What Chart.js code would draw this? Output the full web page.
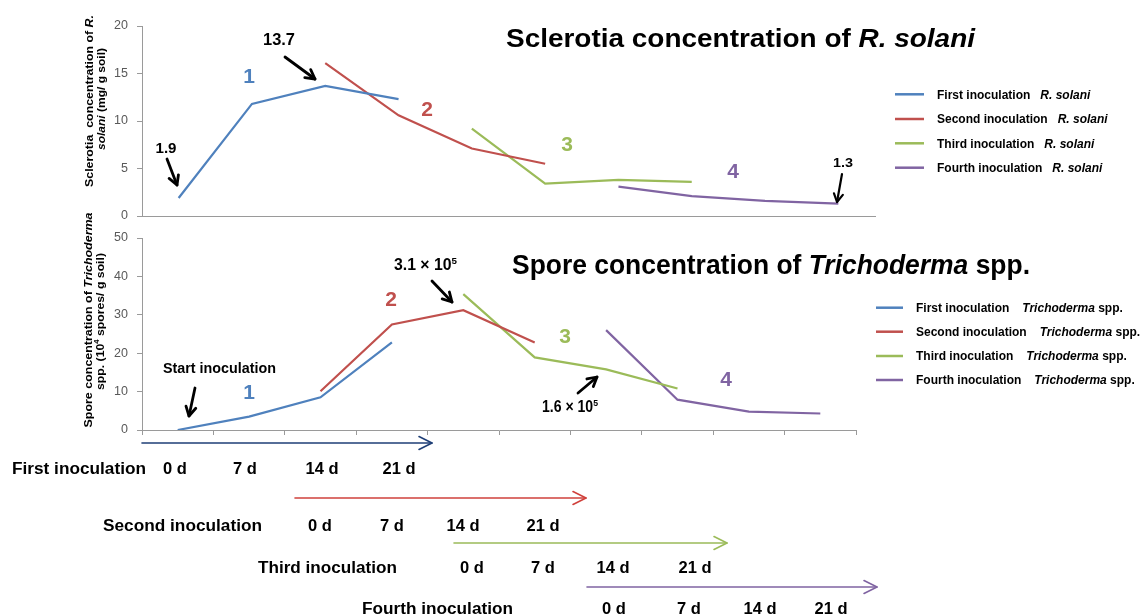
<!DOCTYPE html>
<html><head><meta charset="utf-8">
<script src="https://cdn.jsdelivr.net/npm/chart.js@4.4.1/dist/chart.umd.min.js"></script>
<style>
html,body{margin:0;padding:0;background:#fff;}
#wrap{position:relative;width:1141px;height:616px;overflow:hidden;background:#fff;}
canvas{position:absolute;left:0;top:0;}
</style></head><body>
<div id="wrap"><canvas id="cTop" width="1141" height="616"></canvas><canvas id="cBot" width="1141" height="616"></canvas></div>
<script>
// ---- data ----
const categories = ['0 d','7 d','14 d','21 d','28 d','35 d','42 d','49 d','56 d','63 d'];
const rsFirst  = [1.9, 11.8, 13.7, 12.3, null, null, null, null, null, null];
const rsSecond = [null, null, 16.1, 10.6, 7.1, 5.5, null, null, null, null];
const rsThird  = [null, null, null, null, 9.2, 3.4, 3.8, 3.6, null, null];
const rsFourth = [null, null, null, null, null, null, 3.1, 2.1, 1.6, 1.3];
const trFirst  = [0, 3.5, 8.5, 22.8, null, null, null, null, null, null];
const trSecond = [null, null, 10.1, 27.5, 31.2, 22.8, null, null, null, null];
const trThird  = [null, null, null, null, 35.4, 18.9, 15.8, 10.8, null, null];
const trFourth = [null, null, null, null, null, null, 26.0, 7.9, 4.8, 4.3];
const rsTicks = [0, 5, 10, 15, 20];
const trTicks = [0, 10, 20, 30, 40, 50];
const seriesNames = ['First inoculation', 'Second inoculation', 'Third inoculation', 'Fourth inoculation'];
const timelineDays = ['0 d', '7 d', '14 d', '21 d'];
const seriesColors = ['#4F81BD', '#C0504D', '#9BBB59', '#8064A2'];

// ---- helpers ----
const FAM = '"Liberation Sans", Arial, sans-serif';
function fnt(sz, it) { return (it ? 'italic ' : '') + 'bold ' + sz + 'px ' + FAM; }
function measure(ctx, parts, sz) {
  let w = 0;
  for (const p of parts) { ctx.font = fnt(p.sup ? sz * 0.62 : sz, p.it); w += ctx.measureText(p.t).width; }
  return w;
}
function drawParts(ctx, parts, x, y, o) {
  const sz = o.size;
  const nat = measure(ctx, parts, sz);
  const sx = o.width ? o.width / nat : (o.sx || 1);
  const w = nat * sx;
  ctx.save();
  ctx.translate(x, y);
  if (o.rot) ctx.rotate(o.rot);
  const start = o.align === 'center' ? -w / 2 : (o.align === 'right' ? -w : 0);
  ctx.translate(start, 0);
  ctx.scale(sx, 1);
  ctx.fillStyle = o.color || '#000';
  ctx.textBaseline = 'alphabetic';
  ctx.textAlign = 'left';
  let cx = 0;
  for (const p of parts) {
    const s = p.sup ? sz * 0.62 : sz;
    ctx.font = fnt(s, p.it);
    ctx.fillText(p.t, cx, p.sup ? -sz * 0.4 : 0);
    cx += ctx.measureText(p.t).width;
  }
  ctx.restore();
  return w;
}
function arrow(ctx, x1, y1, x2, y2, color, lw, head, half) {
  ctx.save();
  ctx.strokeStyle = color; ctx.lineWidth = lw; ctx.lineCap = 'round'; ctx.lineJoin = 'round';
  ctx.beginPath(); ctx.moveTo(x1, y1); ctx.lineTo(x2, y2); ctx.stroke();
  const a = Math.atan2(y2 - y1, x2 - x1);
  const bx = x2 - head * Math.cos(a), by = y2 - head * Math.sin(a);
  const nx = -Math.sin(a) * half, ny = Math.cos(a) * half;
  ctx.beginPath();
  ctx.moveTo(bx + nx, by + ny); ctx.lineTo(x2, y2); ctx.lineTo(bx - nx, by - ny);
  ctx.stroke();
  ctx.restore();
}
function mkDatasets(arrs) {
  return arrs.map((d, i) => ({
    label: seriesNames[i], data: d, borderColor: seriesColors[i], backgroundColor: seriesColors[i],
    borderWidth: 2.2, pointRadius: 0, pointHoverRadius: 0, tension: 0, fill: false, spanGaps: false
  }));
}
const AXIS = '#9a9a9a';
const tickFont = { family: FAM.replace(/"/g, ''), size: 12.5 };

// ---- top chart: R. solani ----
const topPlugin = {
  id: 'topText',
  afterDraw(chart) {
    const ctx = chart.ctx;
    drawParts(ctx, [{ t: 'Sclerotia concentration of ' }, { t: 'R. solani', it: true }], 506, 47, { size: 25, width: 469 });
    drawParts(ctx, [{ t: 'Sclerotia  concentration of ' }, { t: 'R.', it: true }], 93, 101, { size: 11.5, width: 172, align: 'center', rot: -Math.PI / 2 });
    drawParts(ctx, [{ t: 'solani', it: true }, { t: ' (mg/ g soil)' }], 104.5, 99, { size: 11.5, width: 102, align: 'center', rot: -Math.PI / 2 });
    const rows = [94.3, 119, 143.3, 167.7];
    chart.data.datasets.forEach((ds, i) => {
      ctx.save(); ctx.strokeStyle = ds.borderColor; ctx.lineWidth = 2.5;
      ctx.beginPath(); ctx.moveTo(895, rows[i]); ctx.lineTo(924, rows[i]); ctx.stroke(); ctx.restore();
      const w = drawParts(ctx, [{ t: ds.label }], 937, rows[i] + 4.3, { size: 12 });
      drawParts(ctx, [{ t: 'R. solani', it: true }], 937 + w + 10, rows[i] + 4.3, { size: 12 });
    });
    const nums = [[249, 82.5], [427, 115.5], [567, 150.5], [733, 177.5]];
    nums.forEach((p, i) => drawParts(ctx, [{ t: String(i + 1) }], p[0], p[1], { size: 21, align: 'center', color: seriesColors[i] }));
    drawParts(ctx, [{ t: '1.9' }], 166, 153, { size: 14, width: 21, align: 'center' });
    arrow(ctx, 167, 159, 177, 185, '#000', 2.8, 9, 5);
    drawParts(ctx, [{ t: '13.7' }], 279, 45, { size: 16.5, width: 32, align: 'center' });
    arrow(ctx, 285, 57, 315, 79, '#000', 2.8, 9, 5);
    drawParts(ctx, [{ t: '1.3' }], 843, 167, { size: 12.5, width: 20, align: 'center' });
    arrow(ctx, 842, 174, 837, 202, '#000', 2.2, 8, 4.5);
  }
};
new Chart(document.getElementById('cTop'), {
  type: 'line',
  data: { labels: categories, datasets: mkDatasets([rsFirst, rsSecond, rsThird, rsFourth]) },
  options: {
    responsive: false, animation: false, devicePixelRatio: 1,
    layout: { padding: { left: 0, top: 26, right: 266, bottom: 400 } },
    plugins: { legend: { display: false }, tooltip: { enabled: false }, title: { display: false } },
    scales: {
      x: {
        type: 'category', offset: true,
        grid: { display: false },
        border: { display: true, color: AXIS, width: 1 },
        ticks: { display: false },
        afterFit: s => { s.height = 0; }
      },
      y: {
        min: rsTicks[0], max: rsTicks[rsTicks.length - 1],
        ticks: { stepSize: rsTicks[1] - rsTicks[0], color: '#595959', font: tickFont, padding: 9 },
        grid: { drawOnChartArea: false, drawTicks: true, tickLength: 5, color: AXIS },
        border: { display: true, color: AXIS, width: 1 },
        afterFit: s => { s.width = 142; }
      }
    }
  },
  plugins: [topPlugin]
});

// ---- bottom chart: Trichoderma ----
const botPlugin = {
  id: 'botText',
  afterDraw(chart) {
    const ctx = chart.ctx;
    drawParts(ctx, [{ t: 'Spore concentration of ' }, { t: 'Trichoderma', it: true }, { t: ' spp.' }], 512, 273.5, { size: 28, width: 518 });
    drawParts(ctx, [{ t: 'Spore concentration of ' }, { t: 'Trichoderma', it: true }], 92, 320, { size: 11.5, width: 215, align: 'center', rot: -Math.PI / 2 });
    drawParts(ctx, [{ t: 'spp. (10' }, { t: '4', sup: true }, { t: ' spores/ g soil)' }], 104, 321.5, { size: 11.5, width: 137, align: 'center', rot: -Math.PI / 2 });
    const rows = [307.7, 331.7, 356, 380];
    chart.data.datasets.forEach((ds, i) => {
      ctx.save(); ctx.strokeStyle = ds.borderColor; ctx.lineWidth = 2.5;
      ctx.beginPath(); ctx.moveTo(876, rows[i]); ctx.lineTo(903, rows[i]); ctx.stroke(); ctx.restore();
      const w = drawParts(ctx, [{ t: ds.label }], 916, rows[i] + 4.3, { size: 12 });
      drawParts(ctx, [{ t: 'Trichoderma', it: true }, { t: ' spp.' }], 916 + w + 13, rows[i] + 4.3, { size: 12 });
    });
    const nums = [[249, 398.5], [391, 305.5], [565, 342.5], [726, 385.5]];
    nums.forEach((p, i) => drawParts(ctx, [{ t: String(i + 1) }], p[0], p[1], { size: 21, align: 'center', color: seriesColors[i] }));
    drawParts(ctx, [{ t: 'Start inoculation' }], 163, 373, { size: 15, width: 113 });
    arrow(ctx, 195, 388, 189, 416, '#000', 2.8, 9, 5);
    drawParts(ctx, [{ t: '3.1 \u00d7 10' }, { t: '5', sup: true }], 394, 270, { size: 16, width: 63 });
    arrow(ctx, 432, 281, 452, 302, '#000', 2.8, 9, 5);
    drawParts(ctx, [{ t: '1.6 \u00d7 10' }, { t: '5', sup: true }], 542, 412, { size: 16, width: 56 });
    arrow(ctx, 578, 393, 597, 377, '#000', 2.8, 9, 5);

    // timeline
    const tl = [
      { name: 'First inoculation', nx: 12, nw: 134, y: 473.5, ay: 443, ax1: 142, ax2: 432, col: '#1F3F77', days: [175, 245, 322, 399] },
      { name: 'Second inoculation', nx: 103, nw: 159, y: 530.5, ay: 498, ax1: 295, ax2: 586, col: '#D0413C', days: [320, 392, 463, 543] },
      { name: 'Third inoculation', nx: 258, nw: 139, y: 573, ay: 543, ax1: 454, ax2: 727, col: '#9BBB59', days: [472, 543, 613, 695] },
      { name: 'Fourth inoculation', nx: 362, nw: 151, y: 614, ay: 587, ax1: 587, ax2: 877, col: '#8064A2', days: [614, 689, 760, 831] }
    ];
    tl.forEach(r => {
      arrow(ctx, r.ax1, r.ay, r.ax2, r.ay, r.col, 1.6, 13, 6.5);
      drawParts(ctx, [{ t: r.name }], r.nx, r.y, { size: 16.8, width: r.nw });
      r.days.forEach((x, j) => drawParts(ctx, [{ t: timelineDays[j] }], x, r.y, { size: 16.5, sx: 1.0, align: 'center' }));
    });
  }
};
new Chart(document.getElementById('cBot'), {
  type: 'line',
  data: { labels: categories, datasets: mkDatasets([trFirst, trSecond, trThird, trFourth]) },
  options: {
    responsive: false, animation: false, devicePixelRatio: 1,
    layout: { padding: { left: 0, top: 238, right: 285, bottom: 181 } },
    plugins: { legend: { display: false }, tooltip: { enabled: false }, title: { display: false } },
    scales: {
      x: {
        type: 'category', offset: true,
        grid: { display: true, offset: true, drawOnChartArea: false, drawTicks: true, tickLength: 5, color: AXIS },
        border: { display: true, color: AXIS, width: 1 },
        ticks: { display: false },
        afterFit: s => { s.height = 5; }
      },
      y: {
        min: trTicks[0], max: trTicks[trTicks.length - 1],
        ticks: { stepSize: trTicks[1] - trTicks[0], color: '#595959', font: tickFont, padding: 9 },
        grid: { drawOnChartArea: false, drawTicks: true, tickLength: 5, color: AXIS },
        border: { display: true, color: AXIS, width: 1 },
        afterFit: s => { s.width = 142; }
      }
    }
  },
  plugins: [botPlugin]
});
</script>
</body></html>
